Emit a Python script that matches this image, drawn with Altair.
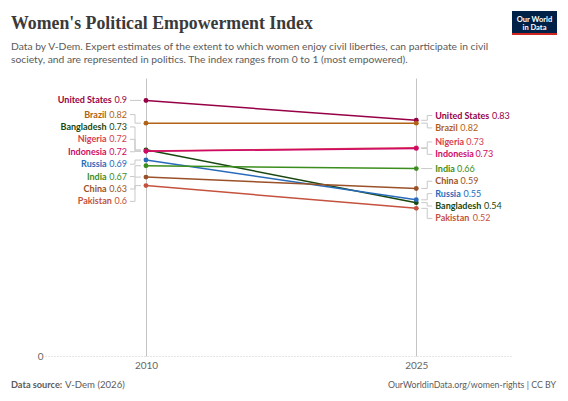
import altair as alt
import pandas as pd

# ---------------- data ----------------
countries = ["United States", "Brazil", "Bangladesh", "Nigeria", "Indonesia",
             "Russia", "India", "China", "Pakistan"]
colors = ["#970046", "#B16214", "#18470F", "#D73C50", "#CF0A66",
          "#286BBB", "#3B8E1D", "#9A5129", "#C4523E"]
years = [2010, 2025]
v2010 = [0.90, 0.82, 0.726, 0.722, 0.721, 0.69, 0.67, 0.63, 0.60]
v2025 = [0.83, 0.82, 0.54, 0.733, 0.731, 0.55, 0.66, 0.59, 0.52]

title = "Women's Political Empowerment Index"
subtitle = ["Data by V-Dem. Expert estimates of the extent to which women enjoy civil liberties, can participate in civil",
            "society, and are represented in politics. The index ranges from 0 to 1 (most empowered)."]
source_bold = "Data source:"
source_text = "V-Dem (2026)"
footer_right = "OurWorldinData.org/women-rights | CC BY"
x_ticks = [2010, 2025]
y_ticks = [0]

# ---------------- layout constants ----------------
W, H = 468, 278
XDOM = [2004.395, 2030.37]
YDOM = [0, 0.979]
PPY = W / (XDOM[1] - XDOM[0])      # px per year
PPU = H / (YDOM[1] - YDOM[0])      # px per index unit
FS = 9.0                            # label font size
LBL_GAP = 19                        # px from point to label
SEP = 12.4 / PPU                    # label spacing in value units
FONT = "Lato"


def em_width(s, bold=True):
    w = 0.0
    for ch in s:
        if ch in "ilIj":
            w += 0.25
        elif ch == " ":
            w += 0.2
        elif ch in "tfr":
            w += 0.37
        elif ch in "sz":
            w += 0.43
        elif ch.isdigit():
            w += 0.58
        elif ch == ".":
            w += 0.24
        elif ch.isupper():
            w += 0.66
        else:
            w += 0.54
    return w


def layout(vals, sep):
    idx = sorted(range(len(vals)), key=lambda i: -vals[i])
    clusters = [[i] for i in idx]

    def pos(cl):
        c = sum(vals[i] for i in cl) / len(cl)
        top = c + sep * (len(cl) - 1) / 2
        return [top - sep * k for k in range(len(cl))]

    changed = True
    while changed:
        changed = False
        for k in range(len(clusters) - 1):
            a, b = clusters[k], clusters[k + 1]
            if pos(a)[-1] - pos(b)[0] < sep - 1e-9:
                clusters[k] = a + b
                del clusters[k + 1]
                changed = True
                break
    out = {}
    for cl in clusters:
        for i, p in zip(cl, pos(cl)):
            out[i] = p
    return [out[i] for i in range(len(vals))]


def fmt(v):
    s = f"{v:.2f}"
    return s.rstrip("0") if s.endswith("0") else s


rows = []
for year, vals in zip(years, [v2010, v2025]):
    ly = layout(vals, SEP)
    for i, c in enumerate(countries):
        vt = fmt(vals[i])
        if year == years[0]:
            shift = -(em_width(vt, bold=False) * FS + 2.6) / PPY
        else:
            shift = (em_width(c, bold=True) * FS + 2.6) / PPY
        rows.append({"country": c, "year": year, "value": vals[i],
                     "ly": ly[i], "vtext": vt, "xshift": year + shift})
df = pd.DataFrame(rows)
left = df[df.year == years[0]]
right = df[df.year == years[1]]

xs = alt.Scale(domain=XDOM, nice=False, zero=False)
ys = alt.Scale(domain=YDOM, nice=False)
cs = alt.Scale(domain=countries, range=colors)
col = alt.Color("country:N", scale=cs, legend=None)

AX = alt.Axis(values=x_ticks, format="d", grid=True, gridColor="#c4c4c4",
              domain=False, ticks=False, labelPadding=4,
              labelFont=FONT, labelFontSize=10, labelColor="#666666")
AY = alt.Axis(values=y_ticks, grid=True, gridColor="#cccccc", gridDash=[1, 2],
              domain=False, ticks=False, labelPadding=2,
              labelFont=FONT, labelFontSize=10, labelColor="#666666")


def X(f):
    return alt.X(f"{f}:Q", scale=xs, axis=AX, title=None)


def Y(f):
    return alt.Y(f"{f}:Q", scale=ys, axis=AY, title=None)


base_lines = alt.Chart(df).mark_line(strokeWidth=1.5).encode(
    x=X("year"), y=Y("value"), color=col, detail="country:N")

points = alt.Chart(df).mark_circle(size=24, opacity=1).encode(
    x=X("year"), y=Y("value"), color=col)

CONN = "#c8c8c8"


def connectors(data, sgn):
    r1 = alt.Chart(data).mark_rule(color=CONN, strokeWidth=1,
                                   xOffset=sgn * 11, x2Offset=sgn * 16).encode(
        x=X("year"), x2="year:Q", y=Y("ly"))
    r2 = alt.Chart(data).mark_rule(color=CONN, strokeWidth=1, xOffset=sgn * 11).encode(
        x=X("year"), y=Y("ly"), y2="value:Q")
    r3 = alt.Chart(data).mark_rule(color=CONN, strokeWidth=1,
                                   xOffset=sgn * 5, x2Offset=sgn * 11).encode(
        x=X("year"), x2="year:Q", y=Y("value"))
    return [r1, r2, r3]


def label(data, xfield, textfield, align, dx, bold):
    return alt.Chart(data).mark_text(
        align=align, baseline="middle", dx=dx, font=FONT, fontSize=FS,
        fontWeight="bold" if bold else "normal").encode(
        x=X(xfield), y=Y("ly"), text=f"{textfield}:N", color=col)


labels = [
    label(left, "year", "vtext", "right", -LBL_GAP, False),
    label(left, "xshift", "country", "right", -LBL_GAP, True),
    label(right, "year", "country", "left", LBL_GAP, True),
    label(right, "xshift", "vtext", "left", LBL_GAP, False),
]

one = pd.DataFrame({"a": [0]})


def deco(text, x, y, **kw):
    return alt.Chart(one).mark_text(text=text, **kw).encode(x=alt.value(x), y=alt.value(y))


title_l = deco(title, -34, -49, align="left", baseline="alphabetic",
               font="Liberation Serif", fontSize=17.8, fontWeight="bold", color="#3a3a3a")
sub_l = deco(subtitle, -34, -28.5, align="left", baseline="alphabetic", lineHeight=13,
             font=FONT, fontSize=10.3, color="#5b5b5b")
src_b = deco(source_bold, -34, 309.5, align="left", baseline="alphabetic",
             font=FONT, fontSize=9.2, fontWeight="bold", color="#5b5b5b")
src_t = deco(source_text, 20, 309.5, align="left", baseline="alphabetic",
             font=FONT, fontSize=9.6, color="#5b5b5b")
foot_r = deco(footer_right, 511, 309.5, align="right", baseline="alphabetic",
              font=FONT, fontSize=8.8, color="#5b5b5b")

logo_bg = alt.Chart(one).mark_rect(color="#002147").encode(
    x=alt.value(467), x2=alt.value(512), y=alt.value(-67), y2=alt.value(-43))
logo_bar = alt.Chart(one).mark_rect(color="#CE261E").encode(
    x=alt.value(467), x2=alt.value(512), y=alt.value(-45), y2=alt.value(-43))
logo_t1 = deco("Our World", 489.5, -56.5, align="center", baseline="alphabetic",
               font=FONT, fontSize=7.5, fontWeight="bold", color="white")
logo_t2 = deco("in Data", 489.5, -48.5, align="center", baseline="alphabetic",
               font=FONT, fontSize=7.5, fontWeight="bold", color="white")

chart = alt.layer(
    base_lines,
    *connectors(left, -1),
    *connectors(right, 1),
    points,
    *labels,
    title_l, sub_l, src_b, src_t, foot_r,
    logo_bg, logo_bar, logo_t1, logo_t2,
).properties(
    width=W, height=H,
    padding={"left": 37, "top": 70, "right": 47, "bottom": 37},
    autosize=alt.AutoSizeParams(type="none"),
    background="white",
).configure_view(stroke=None)

chart.save("out.html", embed_options={"renderer": "svg", "actions": False})
